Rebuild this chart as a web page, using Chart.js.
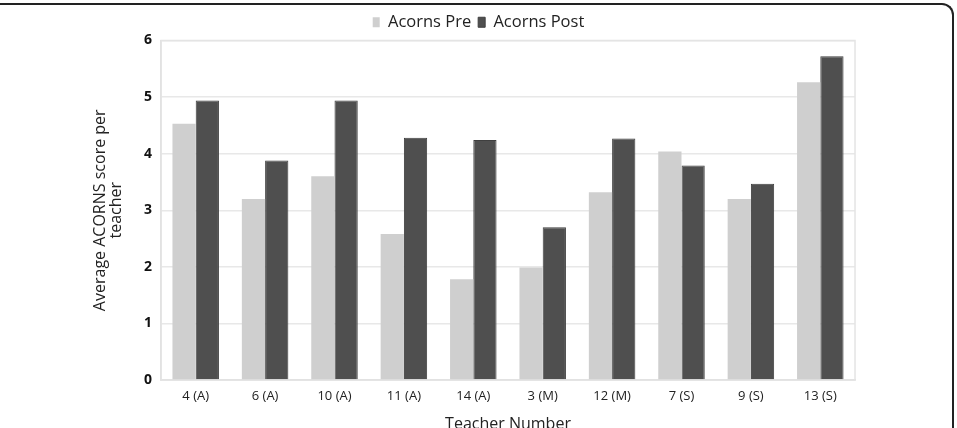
<!DOCTYPE html>
<html>
<head>
<meta charset="utf-8">
<script src="https://cdn.jsdelivr.net/npm/chart.js@4.4.1/dist/chart.umd.min.js"></script>
<style>
  html, body { margin: 0; padding: 0; background: #fff; overflow: hidden; }
  #wrap { position: relative; width: 957px; height: 428px; overflow: hidden; }
  #frame { position: absolute; left: -10px; top: 3px; width: 964px; height: 500px;
           border-top: 2px solid #222; border-right: 2px solid #222; border-top-right-radius: 12px;
           pointer-events: none; box-sizing: border-box; }
  #cv { position: absolute; left: 0; top: 0; }
</style>
</head>
<body>
<div id="wrap">
  <canvas id="cv" width="957" height="445" style="width:957px;height:445px"></canvas>
  <div id="frame"></div>
</div>
<script>
const categories = ['4 (A)', '6 (A)', '10 (A)', '11 (A)', '14 (A)', '3 (M)', '12 (M)', '7 (S)', '9 (S)', '13 (S)'];
const acornsPre  = [4.53, 3.20, 3.60, 2.58, 1.78, 1.99, 3.32, 4.04, 3.20, 5.26];
const acornsPost = [4.94, 3.88, 4.94, 4.28, 4.24, 2.70, 4.27, 3.79, 3.47, 5.72];
const yTicks = [0, 1, 2, 3, 4, 5, 6];

const FONT = "'Open Sans', 'DejaVu Sans', sans-serif";

const areaBorder = {
  id: 'areaBorder',
  beforeDatasetsDraw(chart) {
    const {ctx, chartArea: a} = chart;
    ctx.save();
    ctx.strokeStyle = '#e4e4e4';
    ctx.lineWidth = 1.5;
    ctx.strokeRect(a.left, a.top, a.right - a.left, a.bottom - a.top);
    ctx.restore();
  }
};

new Chart(document.getElementById('cv'), {
  type: 'bar',
  data: {
    labels: categories,
    datasets: [
      { label: 'Acorns Pre', data: acornsPre, backgroundColor: '#cfcfcf', borderWidth: 0 },
      { label: 'Acorns Post', data: acornsPost, backgroundColor: '#4f4f4f', borderColor: '#3f3f3f', borderWidth: 1 }
    ]
  },
  options: {
    responsive: false,
    animation: false,
    devicePixelRatio: 1,
    layout: { padding: { left: 0, right: 0, top: 7, bottom: 0 } },
    datasets: { bar: { categoryPercentage: 0.67, barPercentage: 1.0 } },
    plugins: {
      legend: {
        position: 'top',
        labels: {
          font: { family: FONT, size: 16.5 },
          color: '#222',
          boxWidth: 7, boxHeight: 10,
          padding: 7
        }
      },
      tooltip: { enabled: false }
    },
    scales: {
      x: {
        grid: { display: false, drawTicks: false },
        border: { color: '#dcdcdc', width: 1.5 },
        ticks: { font: { family: FONT, size: 13 }, color: '#222', padding: 8, maxRotation: 0 },
        title: { display: true, text: 'Teacher Number', font: { family: FONT, size: 16 }, color: '#222', padding: { top: 0, bottom: 11 } },
        afterFit(s) { s.height = 65; }
      },
      y: {
        min: 0, max: 6,
        afterBuildTicks(s) { s.ticks = yTicks.map(v => ({ value: v })); },
        grid: { color: '#e8e8e8', lineWidth: 1.5, drawTicks: false },
        border: { color: '#dcdcdc', width: 1.5 },
        ticks: { font: { family: FONT, size: 14, weight: 'bold' }, color: '#111', padding: 9 },
        title: { display: true, text: ['Average ACORNS score per', 'teacher'], font: { family: FONT, size: 16, lineHeight: 1.0 }, color: '#222', padding: { top: 92, bottom: 0 } },
        afterFit(s) { s.width = 161; }
      },
      yRight: {
        position: 'right',
        display: true,
        min: 0, max: 6,
        grid: { display: false, drawTicks: false },
        border: { display: false },
        ticks: { display: false },
        afterFit(s) { s.width = 102; }
      }
    }
  },
  plugins: [areaBorder]
});
</script>
</body>
</html>
